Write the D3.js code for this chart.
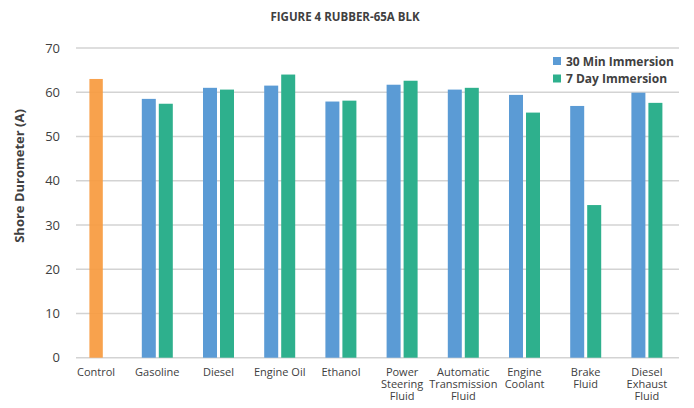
<!DOCTYPE html>
<html><head><meta charset="utf-8">
<script src="https://cdn.jsdelivr.net/npm/d3@7"></script>
<style>body{margin:0;background:#fff;}svg{display:block;font-family:"Open Sans",sans-serif;}</style>
</head><body><svg id="c" width="694" height="408"></svg>
<script>
const categories = ["Control","Gasoline","Diesel","Engine Oil","Ethanol","Power Steering Fluid","Automatic Transmission Fluid","Engine Coolant","Brake Fluid","Diesel Exhaust Fluid"];
const labelLines = [["Control"],["Gasoline"],["Diesel"],["Engine Oil"],["Ethanol"],["Power","Steering","Fluid"],["Automatic","Transmission","Fluid"],["Engine","Coolant"],["Brake","Fluid"],["Diesel","Exhaust","Fluid"]];
const controlValues = [63, null, null, null, null, null, null, null, null, null];
const min30Values = [null, 58.5, 61.0, 61.5, 57.9, 61.7, 60.6, 59.4, 56.9, 59.9];
const day7Values = [null, 57.4, 60.6, 64.0, 58.1, 62.6, 61.0, 55.4, 34.5, 57.6];
const yTicks = [0,10,20,30,40,50,60,70];
const seriesNames = ["30 Min Immersion","7 Day Immersion"];

const svg = d3.select("#c");
const x = d3.scaleBand().domain(categories).range([65.5, 677.5]);
const y = d3.scaleLinear().domain([0,70]).range([357.7, 48]);
const gridL = 76, gridR = 679;
const textCol = "#404040";

// grid
svg.append("g").selectAll("line").data(yTicks).join("line")
  .attr("x1", gridL).attr("x2", gridR)
  .attr("y1", d => y(d)).attr("y2", d => y(d))
  .attr("stroke", "#d3d3d3").attr("stroke-width", 1.5);

// y tick labels
svg.append("g").selectAll("text").data(yTicks).join("text")
  .attr("x", 60).attr("y", d => y(d)).attr("dy", "0.35em")
  .attr("text-anchor", "end").attr("font-size", 13).attr("fill", textCol)
  .text(d => d);

const bw = 14, gap = 3;
const cx = c => x(c) + x.bandwidth()/2;

// control
svg.append("g").selectAll("rect").data(categories.map((c,i)=>({c, v: controlValues[i]})).filter(d=>d.v!=null)).join("rect")
  .attr("x", d => cx(d.c) - 6.7).attr("width", 13.4)
  .attr("y", d => y(d.v)).attr("height", d => y(0) - y(d.v))
  .attr("fill", "#F79A3E").attr("fill-opacity", 0.92);

svg.append("g").selectAll("rect").data(categories.map((c,i)=>({c, v: min30Values[i]})).filter(d=>d.v!=null)).join("rect")
  .attr("x", d => cx(d.c) - bw - gap/2).attr("width", bw)
  .attr("y", d => y(d.v)).attr("height", d => y(0) - y(d.v))
  .attr("fill", "#5B9BD5");

svg.append("g").selectAll("rect").data(categories.map((c,i)=>({c, v: day7Values[i]})).filter(d=>d.v!=null)).join("rect")
  .attr("x", d => cx(d.c) + gap/2).attr("width", bw)
  .attr("y", d => y(d.v)).attr("height", d => y(0) - y(d.v))
  .attr("fill", "#2EB08D");

// x labels
const xl = svg.append("g").selectAll("text").data(categories).join("text")
  .attr("x", d => cx(d)).attr("y", 376)
  .attr("text-anchor", "middle").attr("font-size", 11).attr("fill", textCol);
xl.each(function(d, i){
  d3.select(this).selectAll("tspan").data(labelLines[i]).join("tspan")
    .attr("x", cx(d)).attr("dy", (t,j) => j === 0 ? 0 : 12).text(t => t);
});

// title
svg.append("text").attr("x", 345).attr("y", 21).attr("text-anchor", "middle")
  .attr("font-size", 11.5).attr("font-weight", "bold").attr("fill", textCol)
  .text("FIGURE 4 RUBBER-65A BLK");

// y title
svg.append("text").attr("transform", "translate(24,176) rotate(-90)")
  .attr("text-anchor", "middle").attr("font-size", 13).attr("font-weight", "bold").attr("fill", textCol)
  .text("Shore Durometer (A)");

// legend
const legColors = ["#5B9BD5", "#2EB08D"];
const lg = svg.append("g").selectAll("g").data(seriesNames).join("g")
  .attr("transform", (d,i) => `translate(553,${61.5 + i*17.5})`);
lg.append("rect").attr("x", 0).attr("y", -4.5).attr("width", 8).attr("height", 8)
  .attr("fill", (d,i) => legColors[i]);
lg.append("text").attr("x", 13).attr("dy", "0.35em").attr("font-size", 12)
  .attr("font-weight", "bold").attr("fill", textCol).text(d => d);
</script></body></html>
